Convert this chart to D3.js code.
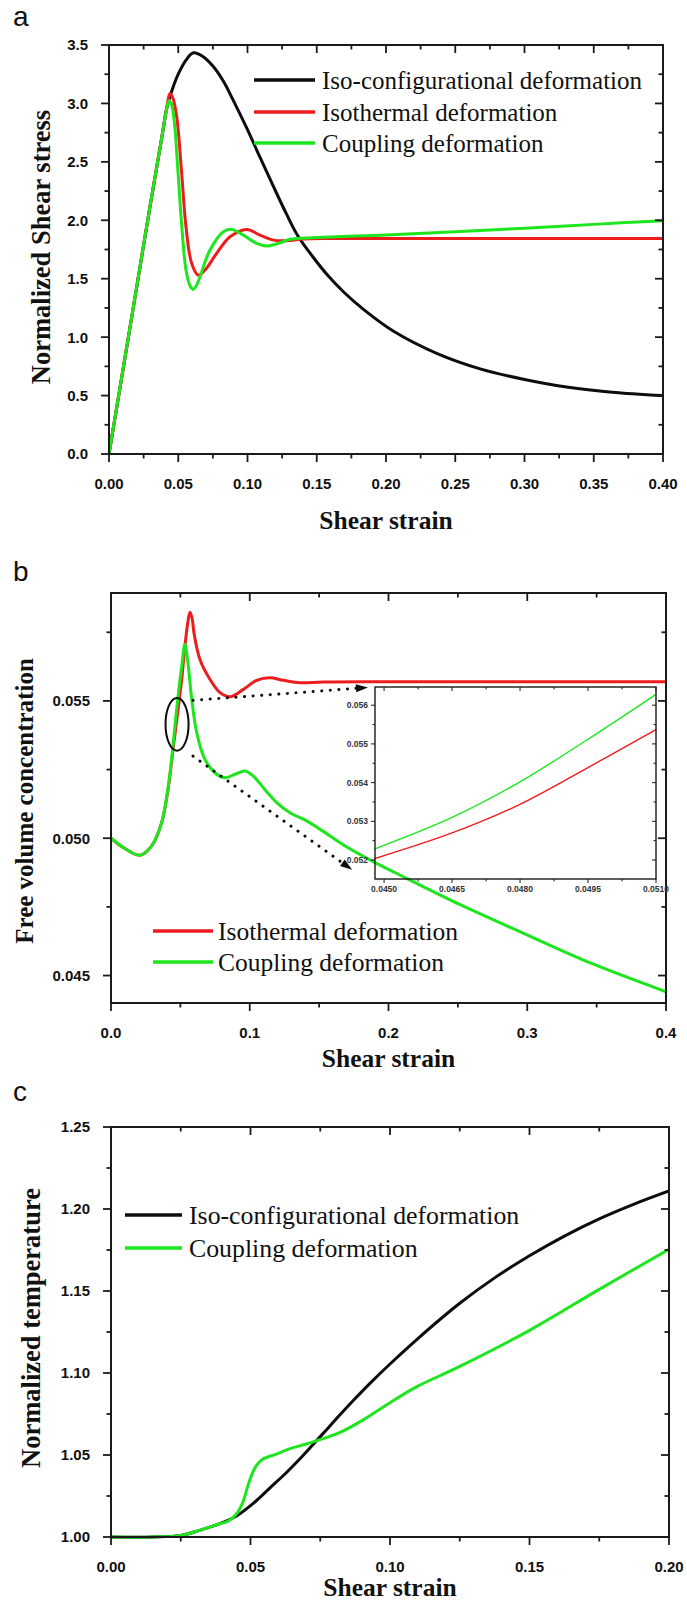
<!DOCTYPE html>
<html>
<head>
<meta charset="utf-8">
<script src="https://cdn.jsdelivr.net/npm/d3@7"></script>
<style>
  html, body { margin: 0; padding: 0; background: #fff; }
  svg { display: block; }
</style>
</head>
<body>
<svg id="fig" width="687" height="1602"></svg>
<script>
// ---------------- Panel a: normalized shear stress vs shear strain ----------------
const stressIsoConfig = [
  [0,0],[0.01,0.715],[0.02,1.43],[0.03,2.145],[0.038,2.70],[0.042,2.975],[0.046,3.13],
  [0.050,3.25],[0.0556,3.37],[0.0609,3.433],[0.068,3.40],[0.075,3.32],[0.0826,3.19],
  [0.090,3.02],[0.0994,2.79],[0.109,2.54],[0.1187,2.29],[0.1283,2.05],[0.1362,1.87],
  [0.147,1.69],[0.1582,1.525],[0.17,1.38],[0.1835,1.24],[0.2055,1.05],[0.237,0.859],
  [0.2686,0.726],[0.30,0.638],[0.3316,0.571],[0.3631,0.529],[0.40,0.50]
];
const stressIsothermal = [
  [0,0],[0.01,0.715],[0.02,1.43],[0.03,2.145],[0.038,2.70],[0.042,2.985],[0.044,3.085],
  [0.046,3.05],[0.0489,2.886],[0.0523,2.43],[0.0556,1.944],[0.0597,1.631],[0.0645,1.531],
  [0.0693,1.574],[0.0777,1.717],[0.0874,1.859],[0.0994,1.922],[0.109,1.873],[0.1187,1.83],
  [0.1283,1.825],[0.14,1.84],[0.16,1.845],[0.25,1.845],[0.40,1.845]
];
const stressCoupling = [
  [0,0],[0.01,0.715],[0.02,1.43],[0.03,2.145],[0.038,2.70],[0.041,2.91],[0.0433,3.022],
  [0.0452,2.99],[0.0475,2.80],[0.0494,2.49],[0.0524,1.973],[0.0556,1.574],[0.0585,1.44],
  [0.0609,1.409],[0.0635,1.45],[0.0657,1.517],[0.0729,1.745],[0.0826,1.902],[0.0886,1.922],
  [0.097,1.873],[0.1066,1.802],[0.1139,1.78],[0.1235,1.808],[0.1307,1.837],[0.15,1.852],
  [0.20,1.875],[0.25,1.902],[0.30,1.932],[0.35,1.965],[0.40,1.997]
];
const stressXTicks = [0,0.05,0.10,0.15,0.20,0.25,0.30,0.35,0.40];
const stressYTicks = [0,0.5,1.0,1.5,2.0,2.5,3.0,3.5];

// ---------------- Panel b: free volume concentration ----------------
const volumeIsothermal = [
  [0,0.0500],[0.0089,0.04966],[0.0209,0.04938],[0.0293,0.04972],[0.0365,0.05057],
  [0.0413,0.05185],[0.0449,0.0533],[0.048,0.05455],[0.051,0.0558],[0.0533,0.0570],
  [0.0552,0.0578],[0.0569,0.05823],[0.0585,0.0580],[0.0598,0.05748],[0.0641,0.05651],
  [0.0714,0.05578],[0.0786,0.0553],[0.0858,0.05515],[0.0954,0.05542],[0.105,0.05575],
  [0.1146,0.05584],[0.1242,0.05575],[0.1362,0.05566],[0.153,0.05569],[0.20,0.0557],
  [0.40,0.0557]
];
const volumeCoupling = [
  [0,0.0500],[0.0089,0.04966],[0.0209,0.04938],[0.0293,0.04972],[0.0365,0.05057],
  [0.0413,0.0519],[0.0449,0.05348],[0.0478,0.05494],[0.051,0.05627],[0.0533,0.05706],
  [0.0557,0.05627],[0.0582,0.05506],[0.0618,0.05384],[0.0677,0.05287],[0.0762,0.05233],
  [0.0822,0.0522],[0.0894,0.05233],[0.0966,0.05245],[0.1026,0.05226],[0.1098,0.05184],
  [0.1194,0.0513],[0.129,0.05093],[0.141,0.05063],[0.153,0.05025],[0.17,0.04968],
  [0.19,0.04912],[0.2138,0.04852],[0.2517,0.04758],[0.299,0.0465],[0.3464,0.04544],
  [0.40,0.04441]
];
const volumeXTicks = [0,0.1,0.2,0.3,0.4];
const volumeYTicks = [0.045,0.050,0.055];

// magnified view of the onset region
const insetIsothermal = [[0.0448,0.05204],[0.0465,0.0527],[0.048,0.05344],[0.0495,0.05439],[0.051,0.05537]];
const insetCoupling   = [[0.0448,0.05229],[0.0465,0.0531],[0.048,0.05402],[0.0495,0.05512],[0.051,0.05628]];
const insetXTicks = [0.0450,0.0465,0.0480,0.0495,0.0510];
const insetYTicks = [0.052,0.053,0.054,0.055,0.056];

// ---------------- Panel c: normalized temperature ----------------
const tempIsoConfig = [
  [0,1.0],[0.015,1.0],[0.025,1.001],[0.032,1.0042],[0.0385,1.0078],[0.045,1.0128],
  [0.051,1.0205],[0.057,1.030],[0.063,1.0395],[0.069,1.050],[0.075,1.0612],[0.081,1.0725],
  [0.087,1.0835],[0.093,1.094],[0.10,1.1055],[0.11,1.121],[0.125,1.1425],[0.1375,1.158],
  [0.15,1.1715],[0.1625,1.1835],[0.175,1.194],[0.1875,1.203],[0.20,1.211]
];
const tempCoupling = [
  [0,1.0],[0.015,1.0],[0.025,1.001],[0.032,1.0042],[0.0385,1.0078],[0.042,1.0097],
  [0.0448,1.0137],[0.0472,1.021],[0.0495,1.0336],[0.0519,1.0431],[0.0542,1.0473],
  [0.059,1.0504],[0.0637,1.0536],[0.070,1.0567],[0.0747,1.0592],[0.0825,1.0641],
  [0.0904,1.0714],[0.10,1.0819],[0.1093,1.0914],[0.125,1.104],[0.15,1.126],
  [0.1753,1.1513],[0.20,1.1754]
];
const tempXTicks = [0,0.05,0.10,0.15,0.20];
const tempYTicks = [1.00,1.05,1.10,1.15,1.20,1.25];

const labelIsoConfig = "Iso-configurational deformation";
const labelIsothermal = "Isothermal deformation";
const labelCoupling = "Coupling deformation";

// ---------------- drawing ----------------
const SERIF = '"Liberation Serif","Times New Roman",serif';
const SANS = '"Liberation Sans",Arial,sans-serif';
const RED = "#ee1d1d", GREEN = "#1ee61e", BLACK = "#0d0d0d", AXIS = "#1a1a1a";

const svg = d3.select("#fig");

function midTicks(major) {
  const out = [];
  for (let i = 0; i < major.length - 1; i++) out.push((major[i] + major[i + 1]) / 2);
  return out;
}

function drawFrame(g, x, y, o) {
  const [x0, x1] = x.range(), [y0, y1] = y.range(); // y0 bottom, y1 top
  const tk = g.append("g").attr("stroke", AXIS).attr("stroke-width", o.tickWidth);
  const put = (vals, len, fn) => vals.forEach(v => { const c = fn(v, len); tk.append("line").attr("x1", c[0]).attr("y1", c[1]).attr("x2", c[2]).attr("y2", c[3]); });
  const xs = [[o.xMajor, o.major], [o.xMinor, o.minor]];
  const ys = [[o.yMajor, o.major], [o.yMinor, o.minor]];
  xs.forEach(([vals, len]) => {
    put(vals, len, (v, l) => [x(v), y0, x(v), y0 + l]);   // bottom, outward
    put(vals, len, (v, l) => [x(v), y1, x(v), y1 + l]);   // top, inward
  });
  ys.forEach(([vals, len]) => {
    put(vals, len, (v, l) => [x0, y(v), x0 - l, y(v)]);   // left, outward
    put(vals, len, (v, l) => [x1, y(v), x1 - l, y(v)]);   // right, inward
  });
  g.append("rect").attr("x", x0).attr("y", y1).attr("width", x1 - x0).attr("height", y0 - y1)
    .attr("fill", "none").attr("stroke", AXIS).attr("stroke-width", o.frameWidth);
  const lab = g.append("g").attr("font-family", SANS).attr("font-weight", "bold")
    .attr("font-size", o.fontSize).attr("fill", o.labelColor || "#111");
  o.xMajor.forEach(v => lab.append("text").attr("x", x(v)).attr("y", y0 + o.xLabelGap)
    .attr("text-anchor", "middle").text(o.xFmt(v)));
  o.yMajor.forEach(v => lab.append("text").attr("x", x0 - o.yLabelGap).attr("y", y(v) + o.fontSize * 0.36)
    .attr("text-anchor", "end").text(o.yFmt(v)));
}

function drawSeries(g, x, y, series, clipId, curve) {
  const line = d3.line().x(d => x(d[0])).y(d => y(d[1])).curve(curve || d3.curveCatmullRom.alpha(0.5));
  series.forEach(s => g.append("path").attr("d", line(s.values)).attr("fill", "none")
    .attr("stroke", s.color).attr("stroke-width", s.width).attr("stroke-linejoin", "round")
    .attr("stroke-linecap", "round").attr("clip-path", clipId ? `url(#${clipId})` : null));
}

function clip(id, x, y) {
  const [x0, x1] = x.range(), [y0, y1] = y.range();
  svg.append("clipPath").attr("id", id).append("rect")
    .attr("x", x0).attr("y", y1 - 4).attr("width", x1 - x0).attr("height", y0 - y1 + 8);
}

function legend(g, items, lx0, lx1, tx, rows, size) {
  items.forEach((it, i) => {
    g.append("line").attr("x1", lx0).attr("x2", lx1).attr("y1", rows[i]).attr("y2", rows[i])
      .attr("stroke", it.color).attr("stroke-width", 3.6);
    g.append("text").attr("x", tx).attr("y", rows[i] + 8.5).attr("font-family", SERIF)
      .attr("font-size", size).attr("fill", "#111").text(it.label);
  });
}

function titles(g, x, xt, yt, xBase, yBase, yCenter, ySize) {
  const [x0, x1] = x.range();
  g.append("text").attr("x", (x0 + x1) / 2).attr("y", xBase).attr("text-anchor", "middle")
    .attr("font-family", SERIF).attr("font-weight", "bold").attr("font-size", 25.5).attr("fill", "#111").text(xt);
  g.append("text").attr("transform", `translate(${yBase},${yCenter}) rotate(-90)`).attr("text-anchor", "middle")
    .attr("font-family", SERIF).attr("font-weight", "bold").attr("font-size", ySize).attr("fill", "#111").text(yt);
}

function panelLetter(t, px, py) {
  svg.append("text").attr("x", px).attr("y", py).attr("font-family", SANS).attr("font-size", 28)
    .attr("fill", "#111").text(t);
}

const mainAxis = { major: 8, minor: 4.5, tickWidth: 1.8, frameWidth: 2, fontSize: 15, xLabelGap: 35, yLabelGap: 21 };

// ---- panel a ----
{
  const g = svg.append("g");
  const x = d3.scaleLinear().domain([0, 0.4]).range([109, 663]);
  const y = d3.scaleLinear().domain([0, 3.5]).range([454, 45]);
  clip("clipA", x, y);
  drawSeries(g, x, y, [
    { values: stressIsoConfig, color: BLACK, width: 3 },
    { values: stressIsothermal, color: RED, width: 3 },
    { values: stressCoupling, color: GREEN, width: 3 }
  ], "clipA");
  drawFrame(g, x, y, Object.assign({}, mainAxis, {
    xMajor: stressXTicks, xMinor: midTicks(stressXTicks),
    yMajor: stressYTicks, yMinor: midTicks(stressYTicks),
    xFmt: d3.format(".2f"), yFmt: d3.format(".1f")
  }));
  legend(g, [
    { color: BLACK, label: labelIsoConfig },
    { color: RED, label: labelIsothermal },
    { color: GREEN, label: labelCoupling }
  ], 254, 315, 322, [80, 112, 143], 25);
  titles(g, x, "Shear strain", "Normalized Shear stress", 529, 50, 247, 26.5);
  panelLetter("a", 13, 26);
}

// ---- panel b ----
{
  const g = svg.append("g");
  const x = d3.scaleLinear().domain([0, 0.4]).range([111, 666]);
  const y = d3.scaleLinear().domain([0.0440, 0.05893]).range([1003, 593]);
  clip("clipB", x, y);
  drawSeries(g, x, y, [
    { values: volumeIsothermal, color: RED, width: 3 },
    { values: volumeCoupling, color: GREEN, width: 3 }
  ], "clipB");
  drawFrame(g, x, y, Object.assign({}, mainAxis, {
    xMajor: volumeXTicks, xMinor: midTicks(volumeXTicks),
    yMajor: volumeYTicks, yMinor: [0.0475, 0.0525, 0.0575],
    xFmt: d3.format(".1f"), yFmt: d3.format(".3f")
  }));

  // marked region and pointers to the magnified view
  const region = { cx: 0.0476, cy: 0.05415, rx: 0.0083, ry: 0.00096 };
  g.append("ellipse").attr("cx", x(region.cx)).attr("cy", y(region.cy))
    .attr("rx", x(region.rx) - x(0)).attr("ry", y(0.05) - y(0.05 + region.ry))
    .attr("fill", "none").attr("stroke", BLACK).attr("stroke-width", 2);
  const pointers = [
    [[0.0591, 0.05502], [0.1852, 0.05549]],
    [[0.0591, 0.05299], [0.1738, 0.04885]]
  ];
  pointers.forEach(([a, b]) => {
    const ax = x(a[0]), ay = y(a[1]), bx = x(b[0]), by = y(b[1]);
    const ang = Math.atan2(by - ay, bx - ax);
    const hl = 12, hw = 4;
    const ex = bx - hl * Math.cos(ang), ey = by - hl * Math.sin(ang);
    g.append("line").attr("x1", ax).attr("y1", ay).attr("x2", ex).attr("y2", ey)
      .attr("stroke", BLACK).attr("stroke-width", 3).attr("stroke-linecap", "round")
      .attr("stroke-dasharray", "0.1 8.5");
    const px = -Math.sin(ang), py = Math.cos(ang);
    g.append("path").attr("d", `M${bx},${by}L${ex + px * hw},${ey + py * hw}L${ex - px * hw},${ey - py * hw}Z`)
      .attr("fill", BLACK);
  });

  // magnified view
  const ix = d3.scaleLinear().domain([0.0448, 0.0510]).range([375, 656]);
  const iy = d3.scaleLinear().domain([0.05151, 0.05647]).range([879, 687]);
  drawSeries(g, ix, iy, [
    { values: insetIsothermal, color: RED, width: 1.4 },
    { values: insetCoupling, color: GREEN, width: 1.4 }
  ], null);
  drawFrame(g, ix, iy, {
    major: 4, minor: 2.5, tickWidth: 1, frameWidth: 1.4, fontSize: 8.5, xLabelGap: 13, yLabelGap: 7,
    labelColor: "#333",
    xMajor: insetXTicks, xMinor: midTicks(insetXTicks),
    yMajor: insetYTicks, yMinor: midTicks(insetYTicks),
    xFmt: d3.format(".4f"), yFmt: d3.format(".3f")
  });

  legend(g, [
    { color: RED, label: labelIsothermal },
    { color: GREEN, label: labelCoupling }
  ], 153, 213, 218, [931, 962], 25.5);
  titles(g, x, "Shear strain", "Free volume concentration", 1067, 33, 801, 25);
  panelLetter("b", 13, 581);
}

// ---- panel c ----
{
  const g = svg.append("g");
  const x = d3.scaleLinear().domain([0, 0.2]).range([111, 669]);
  const y = d3.scaleLinear().domain([1.0, 1.25]).range([1537, 1127]);
  clip("clipC", x, y);
  drawSeries(g, x, y, [
    { values: tempIsoConfig, color: BLACK, width: 3 },
    { values: tempCoupling, color: GREEN, width: 3 }
  ], "clipC");
  drawFrame(g, x, y, Object.assign({}, mainAxis, {
    xMajor: tempXTicks, xMinor: midTicks(tempXTicks),
    yMajor: tempYTicks, yMinor: midTicks(tempYTicks),
    xFmt: d3.format(".2f"), yFmt: d3.format(".2f")
  }));
  legend(g, [
    { color: BLACK, label: labelIsoConfig },
    { color: GREEN, label: labelCoupling }
  ], 125, 182, 189, [1215, 1248], 25.8);
  titles(g, x, "Shear strain", "Normalized temperature", 1596, 40, 1328, 26.5);
  panelLetter("c", 13, 1101);
}
</script>
</body>
</html>
